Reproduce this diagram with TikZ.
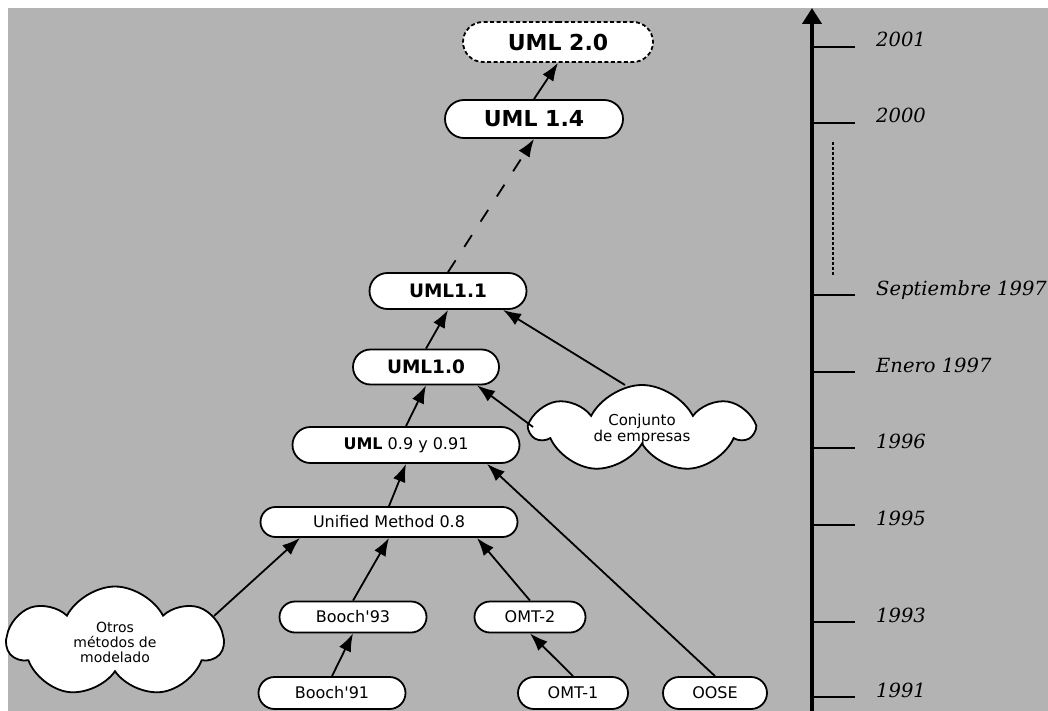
\documentclass[tikz,border=0pt]{standalone}
\usepackage{fontspec}
\newfontfamily\nodefont{DejaVu Sans}
\newfontfamily\yearfont{DejaVu Serif}
\usetikzlibrary{shapes.misc,shapes.symbols,arrows.meta,calc}
\definecolor{bggray}{RGB}{179,179,179}
\begin{document}
\begin{tikzpicture}[x=1pt,y=-1pt,
  ver/.style={rounded rectangle, draw=black, fill=white, line width=1.8pt, inner sep=0pt,
    font=\nodefont\fontsize{16}{18}\selectfont},
  big/.style={ver, font=\nodefont\bfseries\fontsize{22}{26}\selectfont},
  mid/.style={ver, font=\nodefont\bfseries\fontsize{18.5}{22}\selectfont},
  nube/.style={cloud, cloud puffs=7, cloud puff arc=125, cloud ignores aspect, draw=black,
    fill=white, line width=1.8pt, inner sep=0pt, align=center},
  link/.style={line width=1.8pt, -{Latex[length=18pt,width=13pt]}},
  dlink/.style={link, dash pattern=on 14pt off 16pt},
  tick/.style={line width=1.2pt},
  year/.style={anchor=base west, inner sep=0pt, font=\yearfont\itshape\fontsize{19.5}{22}\selectfont}]
\fill[white] (0,0) rectangle (1048,711);
\fill[bggray] (8,8) rectangle (1048,711);
\useasboundingbox (0,0) rectangle (1048,711);

% timeline
\coordinate (tlb) at (812,711);
\coordinate (tlt) at (812,8);
\draw[line width=4pt, -{Triangle[length=16pt,width=19pt]}] (tlb) -- (tlt);
\foreach \y/\t in {47/2001, 123/2000, 295/Septiembre 1997, 372/Enero 1997, 448/1996, 525/1995, 622/1993, 697/1991}{
  \draw[tick] (812,\y) -- (855,\y);
  \node[year] (yr\y) at (876,\y) {\t};
}
\draw[line width=1.3pt, dash pattern=on 3pt off 2pt] (833,142) -- (833,275);

% versions
\node[big, dash pattern=on 4pt off 2.5pt, minimum width=190pt, minimum height=40pt] (uml20) at (558,42) {UML 2.0};
\node[big, minimum width=178pt, minimum height=38pt] (uml14) at (534,119) {UML 1.4};
\node[mid, minimum width=157pt, minimum height=36pt] (uml11) at (448,291) {UML1.1};
\node[mid, minimum width=146pt, minimum height=35pt] (uml10) at (426,367) {UML1.0};
\node[ver, minimum width=227pt, minimum height=36pt] (uml09) at (406,445) {{\bfseries UML} 0.9 y 0.91};
\node[ver, minimum width=257pt, minimum height=30pt] (um) at (389,522) {Unified Method 0.8};
\node[ver, minimum width=147pt, minimum height=31pt] (b93) at (353,617) {Booch'93};
\node[ver, minimum width=111pt, minimum height=31pt] (omt2) at (530,617) {OMT-2};
\node[ver, minimum width=147pt, minimum height=32pt] (b91) at (332,693) {Booch'91};
\node[ver, minimum width=110pt, minimum height=32pt] (omt1) at (573,693) {OMT-1};
\node[ver, minimum width=104pt, minimum height=32pt] (oose) at (715,693) {OOSE};

% clouds
\node[nube, minimum width=215pt, minimum height=111pt, font=\nodefont\fontsize{14}{15}\selectfont] (otros) at (115,642) {Otros\\métodos de\\modelado};
\node[nube, minimum width=219pt, minimum height=88pt, font=\nodefont\fontsize{15}{16}\selectfont] (conj) at (642,429) {Conjunto\\de empresas};

% connectors
\draw[link] (uml14.north) -- (uml20.south);
\draw[dlink] (uml11.north) -- (uml14.south);
\draw[link] (uml10.north) -- (uml11.south);
\draw[link] ($(conj.center)+(-17,-44)$) -- ($(uml11.south)+(55,0)$);
\draw[link] ($(conj.center)+(-109,-2)$) -- ($(uml10.south)+(51,0)$);
\draw[link] (uml09.north) -- (uml10.south);
\draw[link] (um.north) -- (uml09.south);
\draw[link] (oose.north) -- ($(uml09.south)+(81,0)$);
\draw[link] ($(otros.center)+(99,-26)$) -- ($(um.south)+(-89,0)$);
\draw[link] (b93.north) -- (um.south);
\draw[link] (omt2.north) -- ($(um.south)+(88,0)$);
\draw[link] (b91.north) -- (b93.south);
\draw[link] (omt1.north) -- (omt2.south);
\end{tikzpicture}
\end{document}
